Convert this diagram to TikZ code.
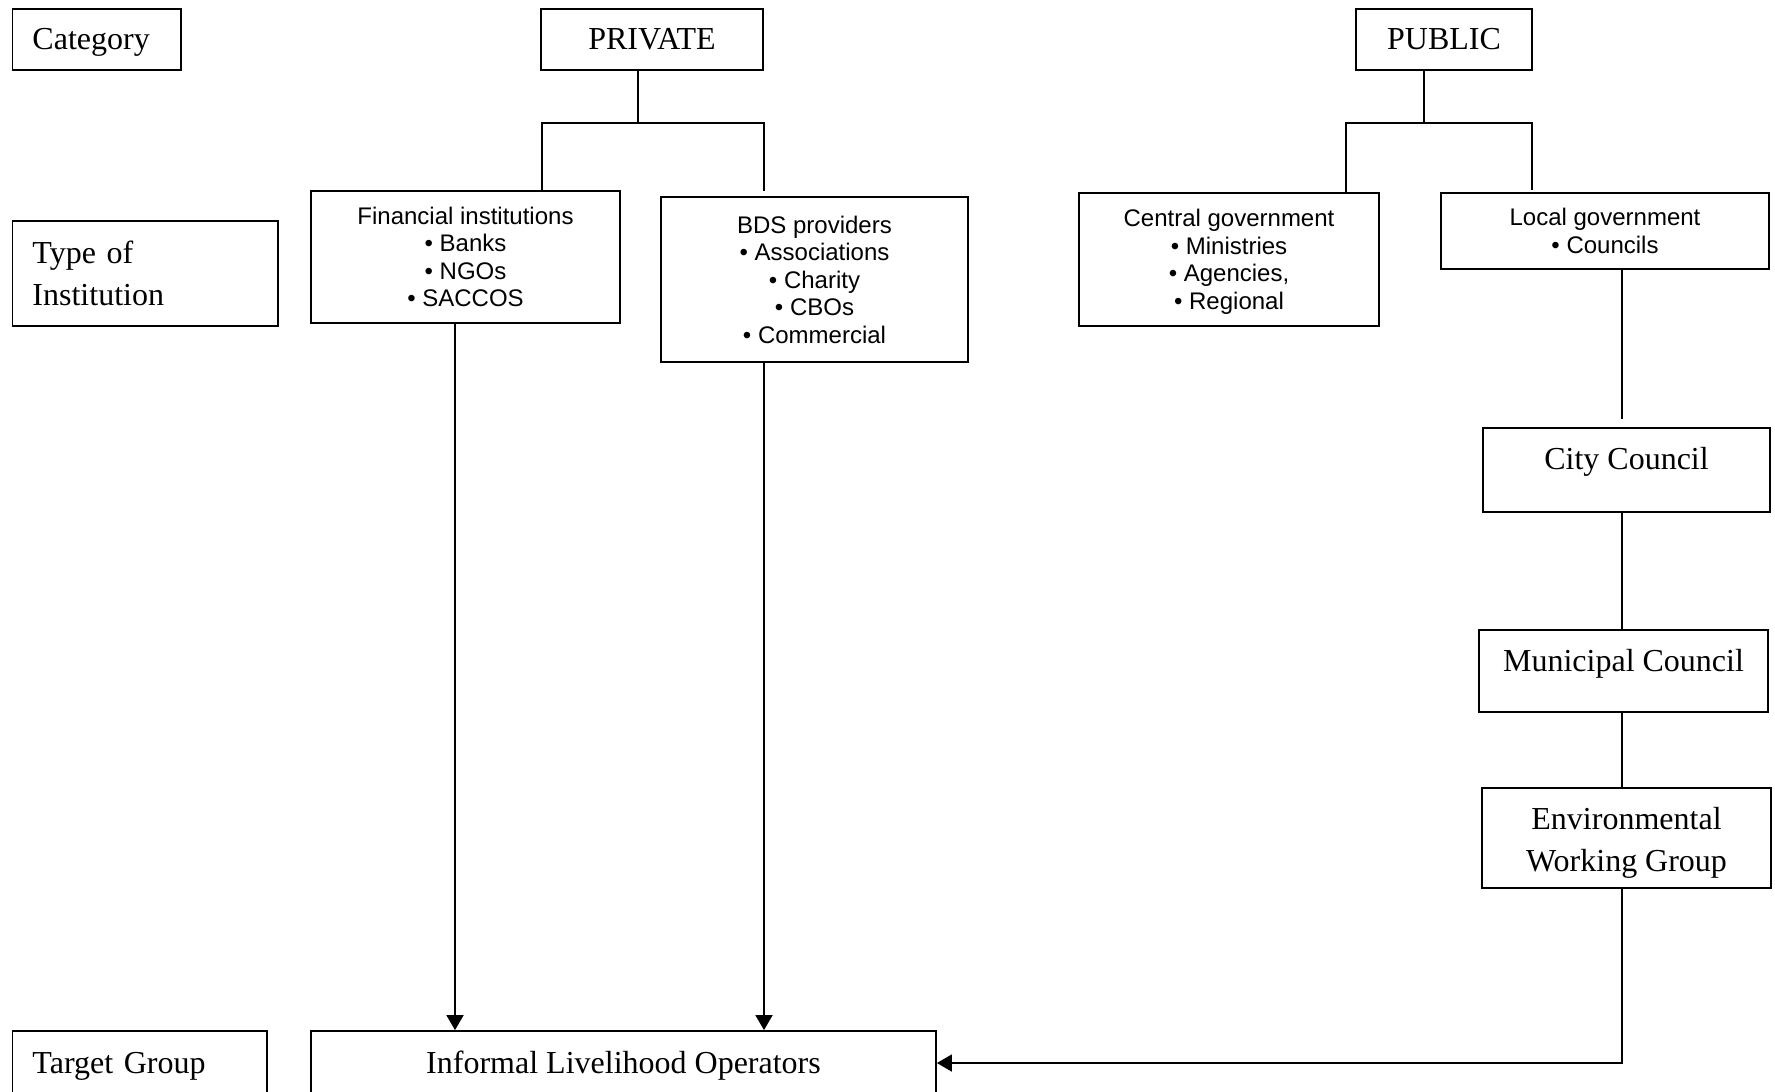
\documentclass[tikz,border=0pt]{standalone}
\usepackage{fontspec}
\setmainfont{Liberation Serif}
\newfontfamily\arialfont{Liberation Sans}
\usetikzlibrary{arrows.meta}

\tikzstyle{tbox} = [rectangle, draw=black, line width=0.9pt, inner sep=0pt, align=center, font=\fontsize{16}{21}\selectfont]
\tikzstyle{sidebox} = [rectangle, draw=black, line width=0.9pt, inner xsep=10pt, inner ysep=0pt, align=left, font=\fontsize{16}{21}\selectfont]
\tikzstyle{oneline} = [text height=14pt, text depth=3.5pt]
\tikzstyle{listbox} = [rectangle, draw=black, line width=0.9pt, inner sep=0pt, align=center, font=\arialfont\fontsize{12}{13.75}\selectfont]
\tikzstyle{line} = [line width=0.9pt]
\tikzstyle{arrow} = [line width=0.9pt, -{Triangle[length=7.5pt,width=8.5pt]}]

\begin{document}
\begin{tikzpicture}[x=0.5pt, y=-0.5pt]
\useasboundingbox (0,0) rectangle (1775,1091);

% row labels
\node (cat) [sidebox, oneline, text width=64.25pt, minimum height=30.5pt] at (96.75,39.5) {Category};
\node (type) [sidebox, text width=112.75pt, minimum height=52.5pt] at (145.25,273.5) {Type of\\Institution};
\node (tgt) [sidebox, oneline, text width=107.25pt, minimum height=32pt] at (139.75,1063) {Target Group};

% categories
\node (priv) [tbox, oneline, minimum width=111pt, minimum height=30.5pt] at (652,39.5) {PRIVATE};
\node (pub) [tbox, oneline, minimum width=88pt, minimum height=30.5pt] at (1444,39.5) {PUBLIC};

% institutions
\node (fin) [listbox, minimum width=154.5pt, minimum height=66pt] at (465.5,257) {Financial institutions\\• Banks\\• NGOs\\• SACCOS};
\node (bds) [listbox, minimum width=153.5pt, minimum height=82.5pt] at (814.5,279.5) {BDS providers\\• Associations\\• Charity\\• CBOs\\• Commercial};
\node (cen) [listbox, minimum width=150pt, minimum height=66.5pt] at (1229,259.5) {Central government\\• Ministries\\• Agencies,\\\raisebox{0pt}[\height][0pt]{• Regional}};
\node (loc) [listbox, minimum width=164pt, minimum height=38pt] at (1605,231) {Local government\\• Councils};

\node (city) [tbox, text height=14pt, text depth=14.4pt, minimum width=143.5pt, minimum height=42pt] at (1626.5,470) {City Council};
\node (muni) [tbox, text height=13pt, text depth=12.9pt, minimum width=144.5pt, minimum height=41pt] at (1623.5,671) {Municipal Council};
\node (env) [tbox, minimum width=144.5pt, minimum height=50pt] at (1626.5,838) {\rule{0pt}{15.5pt}Environmental\\Working Group};

% target group
\node (ilo) [tbox, oneline, minimum width=312.5pt, minimum height=32pt] at (623.5,1063) {Informal Livelihood Operators};

\coordinate (privL) at (542,123);
\coordinate (privR) at (764,123);
\coordinate (pubL) at (1346,123);
\coordinate (pubR) at (1532,123);
\coordinate (spine) at (1622,419);

\draw [line] ([xshift=-7pt]priv.south) -- ([xshift=-7pt]priv.south |- privL);
\draw [line] (privL |- fin.north) -- (privL) -- (privR) -- ++(0,68);
\draw [line] ([xshift=-10pt]pub.south) -- ([xshift=-10pt]pub.south |- pubL);
\draw [line] (pubL |- cen.north) -- ++(0,-2) -- (pubL) -- (pubR) -- ([yshift=1pt]pubR |- loc.north);

\draw [line] (loc.south -| spine) -- (spine);
\draw [line] (city.south -| spine) -- (muni.north -| spine);
\draw [line] (muni.south -| spine) -- (env.north -| spine);

\draw [arrow] ([xshift=-5.25pt]fin.south) -- ([xshift=-5.25pt]fin.south |- ilo.north);
\draw [arrow] ([xshift=-25.25pt]bds.south) -- ([xshift=-25.25pt]bds.south |- ilo.north);
\draw [arrow] (env.south -| spine) |- (ilo.east);

\end{tikzpicture}
\end{document}
